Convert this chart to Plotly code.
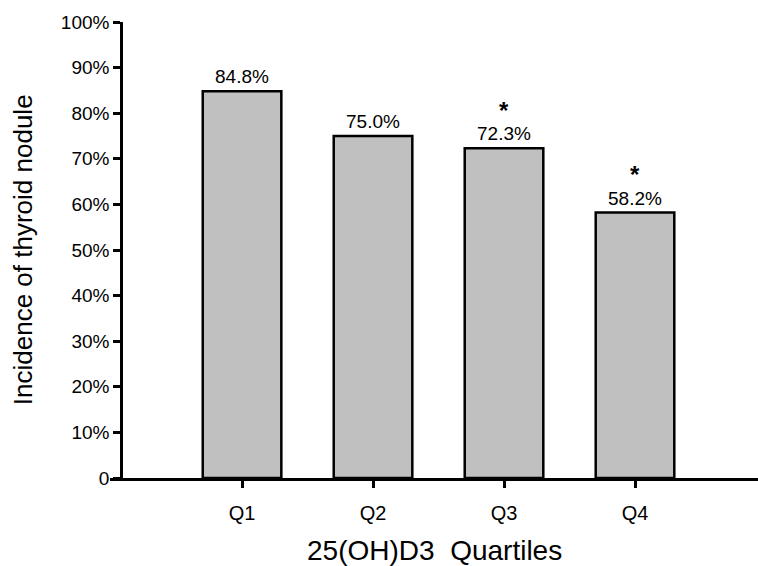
import plotly.graph_objects as go

categories = ["Q1", "Q2", "Q3", "Q4"]
incidence = [84.8, 75.0, 72.3, 58.2]
value_labels = ["84.8%", "75.0%", "72.3%", "58.2%"]
significant = [False, False, True, True]
ytick_vals = [0, 10, 20, 30, 40, 50, 60, 70, 80, 90, 100]
ytick_text = ["0", "10%", "20%", "30%", "40%", "50%", "60%", "70%", "80%", "90%", "100%"]

FONT = "Liberation Sans, Arial, sans-serif"

fig = go.Figure()
fig.add_trace(go.Bar(
    x=list(range(len(categories))),
    y=incidence,
    width=0.6,
    marker=dict(color="#c0c0c0", line=dict(color="black", width=2.5)),
    hoverinfo="skip",
))

annotations = []
for i, (v, lab, sig) in enumerate(zip(incidence, value_labels, significant)):
    annotations.append(dict(x=i, y=v, xref="x", yref="y", text=lab, showarrow=False,
                            yanchor="bottom", yshift=2,
                            font=dict(family=FONT, size=19, color="black")))
    if sig:
        annotations.append(dict(x=i, y=v, xref="x", yref="y", text="<b>*</b>", showarrow=False,
                                yanchor="middle", yshift=38,
                                font=dict(family=FONT, size=24, color="black")))

annotations.append(dict(x=-0.134, y=0.5, xref="paper", yref="paper",
                        text="Incidence of thyroid nodule", textangle=-90, showarrow=False,
                        xanchor="center", yanchor="middle",
                        font=dict(family=FONT, size=26, color="black")))
annotations.append(dict(x=0.5, y=-0.158, xref="paper", yref="paper",
                        text="25(OH)D3\u00a0 Quartiles", showarrow=False,
                        xanchor="center", yanchor="middle",
                        font=dict(family=FONT, size=28, color="black")))

fig.update_layout(
    width=758, height=566,
    margin=dict(l=110, r=0, t=22, b=88),
    plot_bgcolor="white", paper_bgcolor="white",
    showlegend=False,
    annotations=annotations,
    xaxis=dict(
        domain=[0, 1], range=[-1.008, 3.939],
        tickmode="array", tickvals=list(range(len(categories))), ticktext=categories,
        showline=True, linecolor="black", linewidth=2.5,
        ticks="outside", ticklen=7, tickwidth=2.5, tickcolor="black",
        ticklabelstandoff=8,
        showgrid=False, zeroline=False,
        tickfont=dict(family=FONT, size=20, color="black"),
    ),
    yaxis=dict(
        anchor="free", position=11 / 648, range=[0, 100],
        tickmode="array", tickvals=ytick_vals, ticktext=ytick_text,
        showline=True, linecolor="black", linewidth=2.5,
        ticks="outside", ticklen=7, tickwidth=2.5, tickcolor="black",
        showgrid=False, zeroline=False,
        tickfont=dict(family=FONT, size=19, color="black"),
    ),
)

fig.write_html("out.html", config={"displayModeBar": False},
               post_script="document.body.style.margin='0';document.body.style.overflow='hidden';")
